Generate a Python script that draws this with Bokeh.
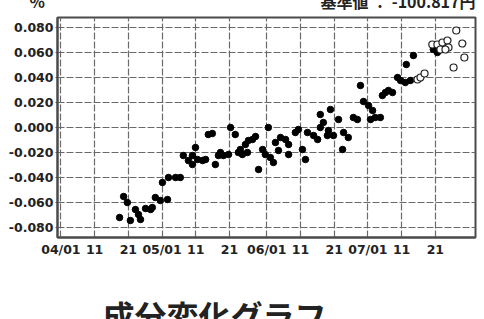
from bokeh.plotting import figure
from bokeh.models import FixedTicker, Title
from bokeh.embed import file_html
from bokeh.resources import INLINE

# ---- data (days counted from 04/01, value) ----
fill_day = [17.4, 18.6, 19.7, 20.6, 22.1, 23.0, 23.6, 25.1, 26.6, 27.1, 28.0, 29.5, 31.6,
            30.1, 31.9, 34.0, 35.4, 36.3, 37.8, 39.0, 39.9, 39.0, 40.5, 42.0, 42.9, 43.7,
            44.9, 45.8, 46.7, 47.3, 48.2, 50.3, 51.7, 49.7, 52.6, 53.2, 54.7, 55.6, 56.8,
            57.7, 55.3, 53.8, 58.6, 59.8, 60.6, 61.5, 62.1, 63.0, 63.6, 64.5, 65.1, 66.6,
            67.5, 67.5, 69.5, 70.4, 71.6, 72.5, 73.1, 74.9, 76.1, 76.9, 76.9, 77.8, 79.0,
            79.3, 80.8, 82.3, 83.8, 85.2, 83.5, 86.7, 87.9, 79.9, 88.8, 89.7, 91.2, 92.4,
            91.8, 93.2, 94.7, 95.3, 96.2, 97.1, 98.3, 99.8, 100.7, 102.1, 103.6, 102.4,
            104.5, 110.4, 111.6]
fill_val = [-0.0720, -0.0552, -0.0600, -0.0744, -0.0656, -0.0696, -0.0736, -0.0648, -0.0656,
            -0.0640, -0.0560, -0.0584, -0.0576, -0.0440, -0.0400, -0.0400, -0.0400, -0.0224,
            -0.0264, -0.0296, -0.0160, -0.0224, -0.0256, -0.0264, -0.0256, -0.0056, -0.0048,
            -0.0296, -0.0224, -0.0200, -0.0224, 0.0000, -0.0056, -0.0216, -0.0200, -0.0176,
            -0.0136, -0.0104, -0.0096, -0.0072, -0.0200, -0.0216, -0.0336, -0.0176, -0.0216,
            0.0000, -0.0240, -0.0280, -0.0120, -0.0184, -0.0080, -0.0096, -0.0136, -0.0216,
            -0.0040, -0.0016, -0.0176, -0.0256, -0.0040, -0.0064, -0.0096, 0.0000, 0.0104,
            0.0040, -0.0064, -0.0024, -0.0064, 0.0064, -0.0040, -0.0080, -0.0176, 0.0080,
            0.0064, 0.0144, 0.0336, 0.0208, 0.0176, 0.0136, 0.0064, 0.0080, 0.0080, 0.0256,
            0.0280, 0.0296, 0.0280, 0.0400, 0.0376, 0.0360, 0.0376, 0.0504, 0.0576, 0.0624,
            0.0600]
open_day = [105.7, 106.6, 107.8, 110.1, 111.6, 113.1, 114.6, 114.9, 112.5, 114.0, 117.2,
            119.0, 119.6, 116.4]
open_val = [0.0384, 0.0400, 0.0432, 0.0664, 0.0664, 0.0680, 0.0696, 0.0640, 0.0624, 0.0624,
            0.0776, 0.0672, 0.0560, 0.0480]

x_ticks = [0, 10, 20, 30, 40, 50, 61, 71, 81, 91, 101, 111]
x_labels = ["04/01", "11", "21", "05/01", "11", "21", "06/01", "11", "21", "07/01", "11", "21"]
y_ticks = [-0.08, -0.06, -0.04, -0.02, 0.0, 0.02, 0.04, 0.06, 0.08]
y_labels = ["-0.080", "-0.060", "-0.040", "-0.020", "0.000", "0.020", "0.040", "0.060", "0.080"]

title_text = "成分変化グラフ"
unit_text = "%"
base_text = "基準値 ： -100.817円"

p = figure(frame_width=418, frame_height=220,
           min_border_left=57, min_border_right=9, min_border_top=15, min_border_bottom=0,
           x_range=(-1.0, 122.9), y_range=(-0.088, 0.088),
           output_backend="svg", toolbar_location=None)
# the top line of text is cut off by the window edge, as in the original
p.styles = {"margin-top": "-18px"}

p.background_fill_color = "white"
p.border_fill_color = "white"
p.outline_line_color = "#4a4a4a"
p.outline_line_width = 2

p.xaxis.ticker = FixedTicker(ticks=x_ticks)
p.xaxis.major_label_overrides = {t: l for t, l in zip(x_ticks, x_labels)}
p.yaxis.ticker = FixedTicker(ticks=y_ticks)
p.yaxis.major_label_overrides = {t: l for t, l in zip(y_ticks, y_labels)}

for ax in (p.xaxis[0], p.yaxis[0]):
    ax.axis_line_color = "#4a4a4a"
    ax.axis_line_width = 2
    ax.major_tick_line_color = "#4a4a4a"
    ax.minor_tick_line_color = None
    ax.major_label_text_font = "DejaVu Sans"
    ax.major_label_text_font_style = "bold"
    ax.major_label_text_font_size = "12.5px"
    ax.major_label_text_color = "#222222"
p.xaxis.major_tick_out = 0
p.xaxis.major_tick_in = 0
p.xaxis.major_label_standoff = 4
p.yaxis.major_tick_out = 2
p.yaxis.major_tick_in = 0
p.yaxis.major_label_standoff = 2

for g in (p.xgrid[0], p.ygrid[0]):
    g.grid_line_color = "#6a6a6a"
    g.grid_line_width = 1.2
    g.grid_line_dash = "7 2"

p.scatter(fill_day, fill_val, size=6.5, fill_color="black", line_color="black")
p.scatter(open_day, open_val, size=7, fill_color="white", line_color="#222222", line_width=1.2)

# top line: unit at the left, base value at the right (one title, spaced apart)
p.add_layout(Title(text=unit_text + "\u3000" * 17 + " " + base_text, align="right",
                   standoff=9, vertical_align="bottom",
                   text_font="Noto Sans CJK JP", text_font_style="bold",
                   text_font_size="16px", text_color="#222222"), "above")

# big caption below the chart (cut off by the window's lower edge, as in the original)
p.add_layout(Title(text=title_text, align="left", offset=45, standoff=64,
                   vertical_align="top",
                   text_font="Noto Sans CJK JP", text_font_style="bold",
                   text_font_size="32px", text_color="#222222"), "below")

open("out.html", "w").write(file_html(p, INLINE))
